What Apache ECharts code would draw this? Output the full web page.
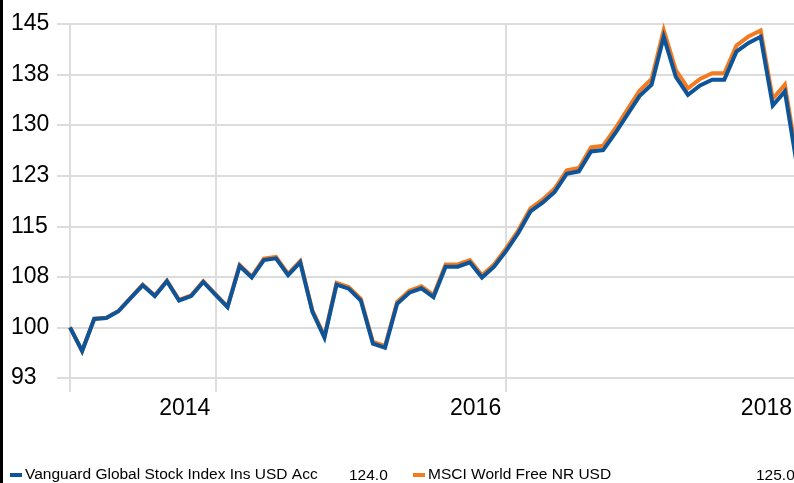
<!DOCTYPE html>
<html>
<head>
<meta charset="utf-8">
<script src="https://cdn.jsdelivr.net/npm/echarts@6/dist/echarts.min.js"></script>
<style>
  html, body { margin: 0; padding: 0; background: #fff; overflow: hidden; }
  #chart { width: 797px; height: 483px; }
</style>
</head>
<body>
<div id="chart"></div>
<script>
// monthly points, Jan 2013 .. Jan 2018
var months = [];
for (var y = 2013; y <= 2018; y++) {
  for (var m = 1; m <= 12; m++) {
    if (y == 2018 && m > 1) break;
    months.push(y + '-' + (m < 10 ? '0' + m : m));
  }
}

var vanguard = [100.0, 96.5, 101.25, 101.4, 102.4, 104.35, 106.25, 104.65, 106.85, 104.0,
  104.65, 106.75, 104.85, 103.0, 109.1, 107.4, 110.0, 110.25, 107.75, 109.65,
  102.35, 98.5, 106.35, 105.75, 104.0, 97.6, 97.0, 103.5, 105.15, 105.8,
  104.5, 109.0, 109.0, 109.65, 107.4, 109.0, 111.35, 114.0, 117.2, 118.5,
  120.1, 122.8, 123.15, 126.1, 126.3, 128.8, 131.55, 134.3, 136.0, 143.1,
  137.15, 134.5, 135.9, 136.75, 136.75, 140.9, 142.2, 143.1, 132.9, 135.0, 124.0];

var msci = [100.0, 96.5, 101.3, 101.45, 102.45, 104.4, 106.35, 104.75, 106.95, 104.1,
  104.75, 106.85, 104.95, 103.1, 109.25, 107.55, 110.2, 110.45, 107.95, 109.85,
  102.55, 98.7, 106.6, 106.0, 104.25, 97.85, 97.25, 103.8, 105.45, 106.1,
  104.8, 109.35, 109.35, 110.0, 107.75, 109.35, 111.75, 114.4, 117.65, 118.95,
  120.6, 123.3, 123.65, 126.7, 126.95, 129.5, 132.3, 135.1, 136.85, 144.1,
  138.15, 135.45, 136.85, 137.7, 137.7, 141.8, 143.15, 144.05, 133.9, 136.0, 125.0];

var yTicks = ['93', '100', '108', '115', '123', '130', '138', '145'];
var yearTicks = { '2014-01': '2014', '2016-01': '2016', '2018-01': '2018' };

var seriesNames = ['Vanguard Global Stock Index Ins USD Acc', 'MSCI World Free NR USD'];
var lastValues = ['124.0', '125.0'];

var gridColor = '#dcdcdc';
var blue = '#0d5499';
var orange = '#f47a20';

var chart = echarts.init(document.getElementById('chart'));

var option = {
  animation: false,
  backgroundColor: '#fff',
  // chart is 797 wide inside a 794 window: the 2018 line sits just off the edge
  grid: { left: 70, right: 0, top: 24, bottom: 105 },
  xAxis: {
    type: 'category',
    boundaryGap: false,
    data: months,
    axisLine: { show: false },
    axisTick: {
      show: true,
      length: 14,
      lineStyle: { color: gridColor, width: 2 },
      interval: function (idx, val) { return idx == 0 || yearTicks[val] != null; }
    },
    splitLine: {
      show: true,
      lineStyle: { color: gridColor, width: 2 },
      interval: function (idx, val) { return yearTicks[val] != null; }
    },
    axisLabel: {
      interval: function (idx, val) { return yearTicks[val] != null; },
      formatter: function (val) { return yearTicks[val] || ''; },
      align: 'right',
      padding: [0, 5, 0, 0],
      margin: 19,
      fontSize: 23,
      fontFamily: 'Liberation Sans',
      color: '#000'
    }
  },
  yAxis: [{
    // label/grid axis: one step per tick label
    type: 'value',
    min: 0,
    max: 7,
    interval: 1,
    axisLine: { show: true, lineStyle: { color: gridColor, width: 2 } },
    axisTick: { show: true, length: 13, lineStyle: { color: gridColor, width: 2 } },
    splitLine: { show: true, lineStyle: { color: gridColor, width: 2 } },
    axisLabel: {
      formatter: function (v) { return yTicks[v]; },
      align: 'left',
      margin: 59,
      fontSize: 23,
      fontFamily: 'Liberation Sans',
      color: '#000'
    }
  }, {
    // data axis, 92.5 .. 145
    type: 'value',
    min: 92.5,
    max: 145,
    show: false,
    splitLine: { show: false }
  }],
  legend: [{
    data: [seriesNames[0]],
    left: 10,
    top: 467,
    padding: 0,
    icon: 'rect',
    itemWidth: 12,
    itemHeight: 4,
    textStyle: { fontSize: 15.5, fontFamily: 'Liberation Sans', color: '#000', padding: [0, 0, 0, -2] }
  }, {
    data: [seriesNames[1]],
    left: 413,
    top: 467,
    padding: 0,
    icon: 'rect',
    itemWidth: 12,
    itemHeight: 4,
    textStyle: { fontSize: 15.5, fontFamily: 'Liberation Sans', color: '#000', padding: [0, 0, 0, -2] }
  }],
  graphic: [
    { type: 'rect', left: 0, top: 0, shape: { width: 3, height: 483 }, style: { fill: '#000' } },
    { type: 'text', left: 349, top: 468, style: { text: lastValues[0], fontSize: 15.5, fontFamily: 'Liberation Sans', fill: '#000' } },
    { type: 'text', left: 756, top: 468, style: { text: lastValues[1], fontSize: 15.5, fontFamily: 'Liberation Sans', fill: '#000' } }
  ],
  series: [{
    name: seriesNames[1],
    type: 'line',
    yAxisIndex: 1,
    data: msci,
    symbol: 'none',
    color: orange,
    lineStyle: { width: 4, color: orange, join: 'miter' }
  }, {
    name: seriesNames[0],
    type: 'line',
    yAxisIndex: 1,
    data: vanguard,
    symbol: 'none',
    color: blue,
    lineStyle: { width: 4, color: blue, join: 'miter' }
  }]
};

chart.setOption(option);
</script>
</body>
</html>
